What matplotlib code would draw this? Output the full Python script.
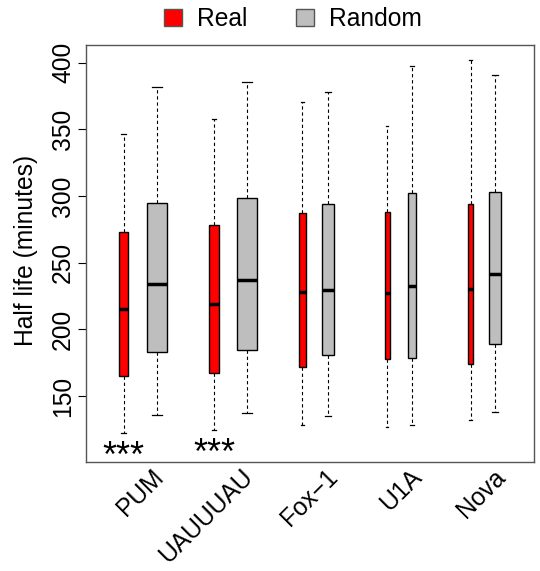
import matplotlib
matplotlib.use("Agg")
import matplotlib.pyplot as plt
from matplotlib.patches import Patch
from matplotlib import transforms

plt.rcParams['font.family'] = ['Liberation Sans', 'DejaVu Sans']

# RNA-binding motif groups
motifs = ["PUM", "UAUUUAU", "Fox\u22121", "U1A", "Nova"]

# Half-life summaries (minutes): whisker low, Q1, median, Q3, whisker high
real_whislo = [122.5, 124.5, 128.2, 126.7, 132.0]
real_q1     = [164.8, 167.0, 172.0, 177.5, 173.8]
real_med    = [215.2, 219.0, 227.8, 227.5, 230.5]
real_q3     = [273.0, 278.0, 287.5, 288.3, 294.3]
real_whishi = [346.5, 357.8, 370.5, 352.3, 402.0]

rand_whislo = [135.5, 137.5, 135.0, 128.0, 138.0]
rand_q1     = [183.3, 184.3, 180.7, 178.5, 188.8]
rand_med    = [233.8, 236.8, 229.5, 232.5, 241.8]
rand_q3     = [294.5, 298.8, 293.8, 302.5, 303.0]
rand_whishi = [382.0, 385.3, 378.0, 397.5, 390.8]

# box widths proportional to sqrt(n) (variable-width boxes)
real_width = [9.4, 9.4, 7.0, 4.7, 5.0]
rand_width = [20.0, 20.6, 12.0, 8.0, 11.3]

# box positions along the x axis
real_pos = [37.7, 128.0, 216.3, 301.3, 384.7]
rand_pos = [70.7, 161.0, 242.3, 325.7, 409.0]

# groups with a significant difference
signif = ["***", "***", "", "", ""]

REAL_COLOR = "#FF0000"
RAND_COLOR = "#BEBEBE"
FS = 17.7
STAR_FS = 26

fig = plt.figure(figsize=(5.40, 5.71), dpi=100)
ax = fig.add_axes([86 / 540, 1 - 461.7 / 571, 448 / 540, 417 / 571])


def stats(lo, q1, med, q3, hi):
    return [dict(whislo=a, q1=b, med=c, q3=d, whishi=e, fliers=[])
            for a, b, c, d, e in zip(lo, q1, med, q3, hi)]


def draw(st, pos, widths, color):
    ax.bxp(st, positions=pos, widths=widths,
           capwidths=[w * 0.5 for w in widths],
           patch_artist=True, showfliers=False,
           boxprops=dict(facecolor=color, edgecolor="black", linewidth=1.0),
           medianprops=dict(color="black", linewidth=2.5, solid_capstyle="butt"),
           whiskerprops=dict(color="black", linewidth=0.8, linestyle=(0, (3, 2.5))),
           capprops=dict(color="black", linewidth=0.9))


draw(stats(real_whislo, real_q1, real_med, real_q3, real_whishi),
     real_pos, real_width, REAL_COLOR)
draw(stats(rand_whislo, rand_q1, rand_med, rand_q3, rand_whishi),
     rand_pos, rand_width, RAND_COLOR)

ax.set_xlim(0, 448)
ax.set_ylim(100.7, 413.5)
ax.set_xticks([])
ax.set_yticks([150, 200, 250, 300, 350, 400])
ax.tick_params(axis="y", length=5.8, width=0.8, labelsize=FS,
               labelrotation=90, pad=2)
for lbl in ax.get_yticklabels():
    lbl.set_va("center")
for s in ax.spines.values():
    s.set_color("#555555")
    s.set_linewidth(1.0)

# significance stars centred 10 minutes below the lower whiskers
star_shift = transforms.ScaledTranslation(0, -0.57 * STAR_FS / 72, fig.dpi_scale_trans)
for p, lo, s in zip(real_pos, real_whislo, signif):
    if s:
        ax.text(p, lo - 10, s, ha="center", va="baseline", fontsize=STAR_FS,
                transform=ax.transData + star_shift)

# rotated group labels below the axis
label_tr = transforms.blended_transform_factory(ax.transData, ax.transAxes) + \
    transforms.ScaledTranslation(19 / 100, -11.5 / 100, fig.dpi_scale_trans)
for rp, dp, name in zip(real_pos, rand_pos, motifs):
    c = (rp + dp) / 2
    ax.text(c, 0, name, transform=label_tr, rotation=45, rotation_mode="anchor",
            ha="right", va="center", fontsize=FS)

fig.text(26 / 540, 1 - 250 / 571, "Half life (minutes)", rotation=90,
         ha="center", va="center", fontsize=FS)

handles = [Patch(facecolor=REAL_COLOR, edgecolor="#555555", label="Real"),
           Patch(facecolor=RAND_COLOR, edgecolor="#555555", label="Random")]
fig.legend(handles=handles, loc="center", ncol=2, frameon=False,
           bbox_to_anchor=(293 / 540, 1 - 19 / 571), fontsize=FS,
           handlelength=0.72, handleheight=0.72, handletextpad=0.6,
           columnspacing=2.0)

fig.savefig("out.png", dpi=100)
